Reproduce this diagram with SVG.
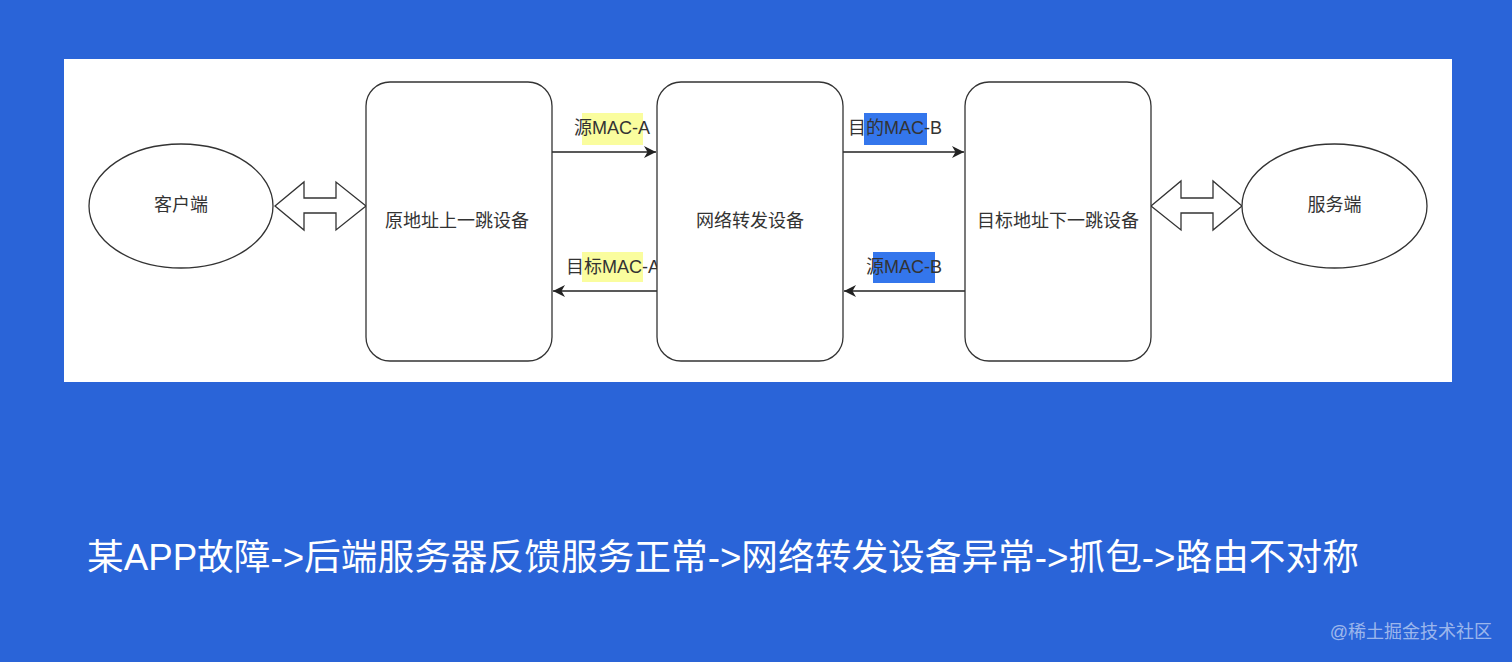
<svg xmlns="http://www.w3.org/2000/svg" width="1512" height="662" viewBox="0 0 1512 662">
<style>
.bg{fill:#2A64D8}
.panel{fill:#FFFFFF}
.node{fill:#FFFFFF;stroke:#333333;stroke-width:1.3}
.lbl{font-family:"Liberation Sans","Noto Sans CJK SC",sans-serif;font-size:18px;fill:#333333;text-anchor:middle;dominant-baseline:central}
.edge{fill:none;stroke:#222222;stroke-width:1.3}
.hy{fill:#FAFD9E}
.hb{fill:#3476EC}
.title{font-family:"Liberation Sans","Noto Sans CJK SC",sans-serif;font-size:36.7px;fill:#FFFFFF}
.wm{font-family:"Liberation Sans","Noto Sans CJK SC",sans-serif;font-size:18px;fill:#FFFFFF;fill-opacity:0.55}
</style>
<defs>
<marker id="ah" viewBox="0 0 12 12" refX="12" refY="6" markerWidth="12" markerHeight="12" markerUnits="userSpaceOnUse" orient="auto">
<path d="M0,0 L12,6 L0,12 L3.5,6 z" fill="#222222"/>
</marker>
</defs>
<rect class="bg" x="0" y="0" width="1512" height="662"/>
<rect class="panel" x="64" y="59" width="1388" height="323"/>

<g id="connectors">
<path class="node" d="M275,206 L304,182 L304,198 L336,198 L336,182 L366,206 L336,230 L336,213 L304,213 L304,230 Z"/>
<path class="node" d="M1151,206 L1181,181 L1181,198 L1213,198 L1213,181 L1242,206 L1213,230 L1213,213 L1181,213 L1181,230 Z"/>
<line class="edge" x1="552" y1="152" x2="656" y2="152" marker-end="url(#ah)"/>
<line class="edge" x1="657" y1="291" x2="553" y2="291" marker-end="url(#ah)"/>
<line class="edge" x1="843" y1="152" x2="964" y2="152" marker-end="url(#ah)"/>
<line class="edge" x1="965" y1="291" x2="844" y2="291" marker-end="url(#ah)"/>
<rect class="hy" x="582" y="113" width="61" height="32"/>
<text class="lbl" x="612" y="128">源MAC-A</text>
<rect class="hy" x="582" y="252" width="61" height="30"/>
<text class="lbl" x="613" y="267">目标MAC-A</text>
<rect class="hb" x="864" y="113" width="63" height="32"/>
<text class="lbl" x="895" y="128">目的MAC-B</text>
<rect class="hb" x="873" y="252" width="62" height="31"/>
<text class="lbl" x="904" y="267">源MAC-B</text>
</g>

<g id="client">
<ellipse class="node" cx="181" cy="206" rx="92" ry="62"/>
<text class="lbl" x="181" y="205">客户端</text>
</g>
<g id="src-hop">
<rect class="node" x="366" y="82" width="186" height="279" rx="24" ry="24"/>
<text class="lbl" x="457" y="221">原地址上一跳设备</text>
</g>
<g id="forwarder">
<rect class="node" x="657" y="82" width="186" height="279" rx="24" ry="24"/>
<text class="lbl" x="750" y="221">网络转发设备</text>
</g>
<g id="dst-hop">
<rect class="node" x="965" y="82" width="186" height="279" rx="24" ry="24"/>
<text class="lbl" x="1058" y="221">目标地址下一跳设备</text>
</g>
<g id="server">
<ellipse class="node" cx="1334.5" cy="206" rx="92.5" ry="62"/>
<text class="lbl" x="1334.5" y="205">服务端</text>
</g>

<text class="title" x="87" y="570">某APP故障-&gt;后端服务器反馈服务正常-&gt;网络转发设备异常-&gt;抓包-&gt;路由不对称</text>
<text class="wm" x="1492" y="638" text-anchor="end">@稀土掘金技术社区</text>
</svg>
